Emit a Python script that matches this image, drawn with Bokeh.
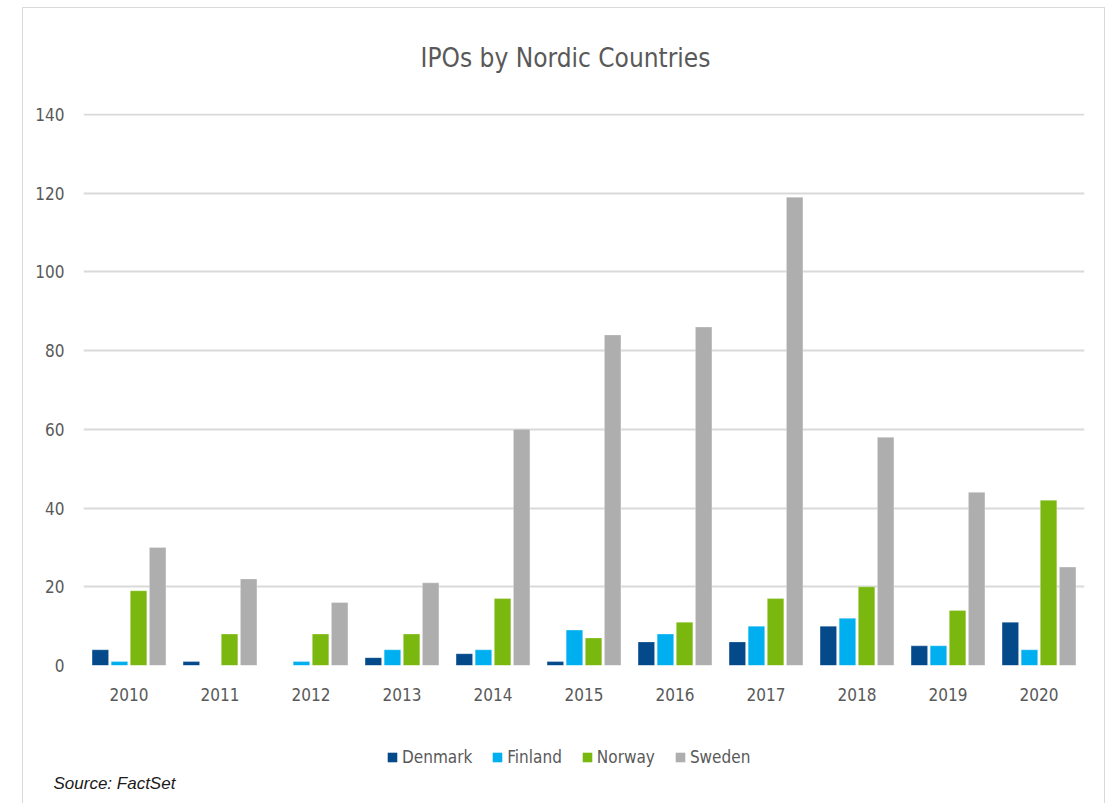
from bokeh.plotting import figure
from bokeh.models import (ColumnDataSource, FactorRange, FixedTicker, Label,
                          Legend, LegendItem, Range1d)
from bokeh.layouts import column
from bokeh.transform import dodge
from bokeh.embed import file_html
from bokeh.resources import INLINE

years = ["2010", "2011", "2012", "2013", "2014", "2015", "2016", "2017", "2018", "2019", "2020"]
denmark = [4, 1, 0, 2, 3, 1, 6, 6, 10, 5, 11]
finland = [1, 0, 1, 4, 4, 9, 8, 10, 12, 5, 4]
norway = [19, 8, 8, 8, 17, 7, 11, 17, 20, 14, 42]
sweden = [30, 22, 16, 21, 60, 84, 86, 119, 58, 44, 25]
y_ticks = [0, 20, 40, 60, 80, 100, 120, 140]

series = ["Denmark", "Finland", "Norway", "Sweden"]
colors = ["#044A8B", "#00AFEF", "#7BB80F", "#AEAEAE"]

src = ColumnDataSource(dict(years=years, Denmark=denmark, Finland=finland,
                            Norway=norway, Sweden=sweden))

FONT = "DejaVu Sans Condensed, Roboto, sans-serif"
GREY = "#595959"
W = 1081


def bare(h):
    f = figure(width=W, height=h, x_range=(0, 1), y_range=(0, 1),
               output_backend="svg", toolbar_location=None,
               min_border_left=0, min_border_right=0, min_border_top=0, min_border_bottom=0)
    f.axis.visible = False
    f.grid.visible = False
    f.outline_line_color = None
    f.frame_align = False
    return f


# --- title strip ---
pt = bare(80)
pt.add_layout(Label(x=542, y=31, x_units="screen", y_units="screen",
                    text="IPOs by Nordic Countries", text_align="center",
                    text_baseline="middle", text_font=FONT, text_font_size="26px",
                    text_color=GREY))

# --- main chart ---
p = figure(width=W, height=630, x_range=FactorRange(*years), y_range=Range1d(0, 140.25),
           output_backend="svg", toolbar_location=None,
           min_border_left=60, min_border_right=20, min_border_top=25, min_border_bottom=53)
p.outline_line_color = None
p.frame_align = False

offsets = [-0.315, -0.105, 0.105, 0.315]
for s, c, o in zip(series, colors, offsets):
    p.vbar(x=dodge("years", o, range=p.x_range), top=s, width=0.182, source=src,
           fill_color=c, line_color="white", line_width=0.6, line_alpha=0.5)

p.xgrid.grid_line_color = None
p.ygrid.grid_line_color = "#D9D9D9"
p.ygrid.grid_line_width = 2
p.yaxis.ticker = FixedTicker(ticks=y_ticks)
p.x_range.range_padding = 0
p.x_range.group_padding = 0

for ax in (p.xaxis, p.yaxis):
    ax.axis_line_color = None
    ax.major_tick_line_color = None
    ax.minor_tick_line_color = None
    ax.major_tick_out = 0
    ax.major_tick_in = 0
    ax.major_label_text_font = FONT
    ax.major_label_text_font_size = "17px"
    ax.major_label_text_color = GREY
p.yaxis.major_label_standoff = 19
p.xaxis.major_label_standoff = 22

# --- legend + source strip ---
pl = bare(85)
items = []
for s, c in zip(series, colors):
    # zero-height proxy bar: invisible, only supplies the legend swatch style
    r = pl.vbar(x=[0], bottom=[0], top=[0], width=0.01, fill_color=c, line_color=None)
    items.append(LegendItem(label=s, renderers=[r]))
legend = Legend(items=items, orientation="horizontal", location=(363, 36),
                glyph_width=12, glyph_height=12, label_standoff=4, spacing=19,
                padding=0, margin=0, border_line_color=None, background_fill_alpha=0,
                label_text_font=FONT, label_text_font_size="17px", label_text_color=GREY)
pl.add_layout(legend)
pl.add_layout(Label(x=30, y=20, x_units="screen", y_units="screen", text="Source: FactSet",
                    text_align="left", text_baseline="middle", text_font="Liberation Sans",
                    text_font_style="italic", text_font_size="17px", text_color="#1a1a1a"))

layout = column(pt, p, pl, spacing=0)
layout.margin = (7, 0, 0, 22)
layout.styles = {"border": "1px solid #D9D9D9", "border-bottom": "none"}

open("out.html", "w").write(file_html(layout, INLINE))
